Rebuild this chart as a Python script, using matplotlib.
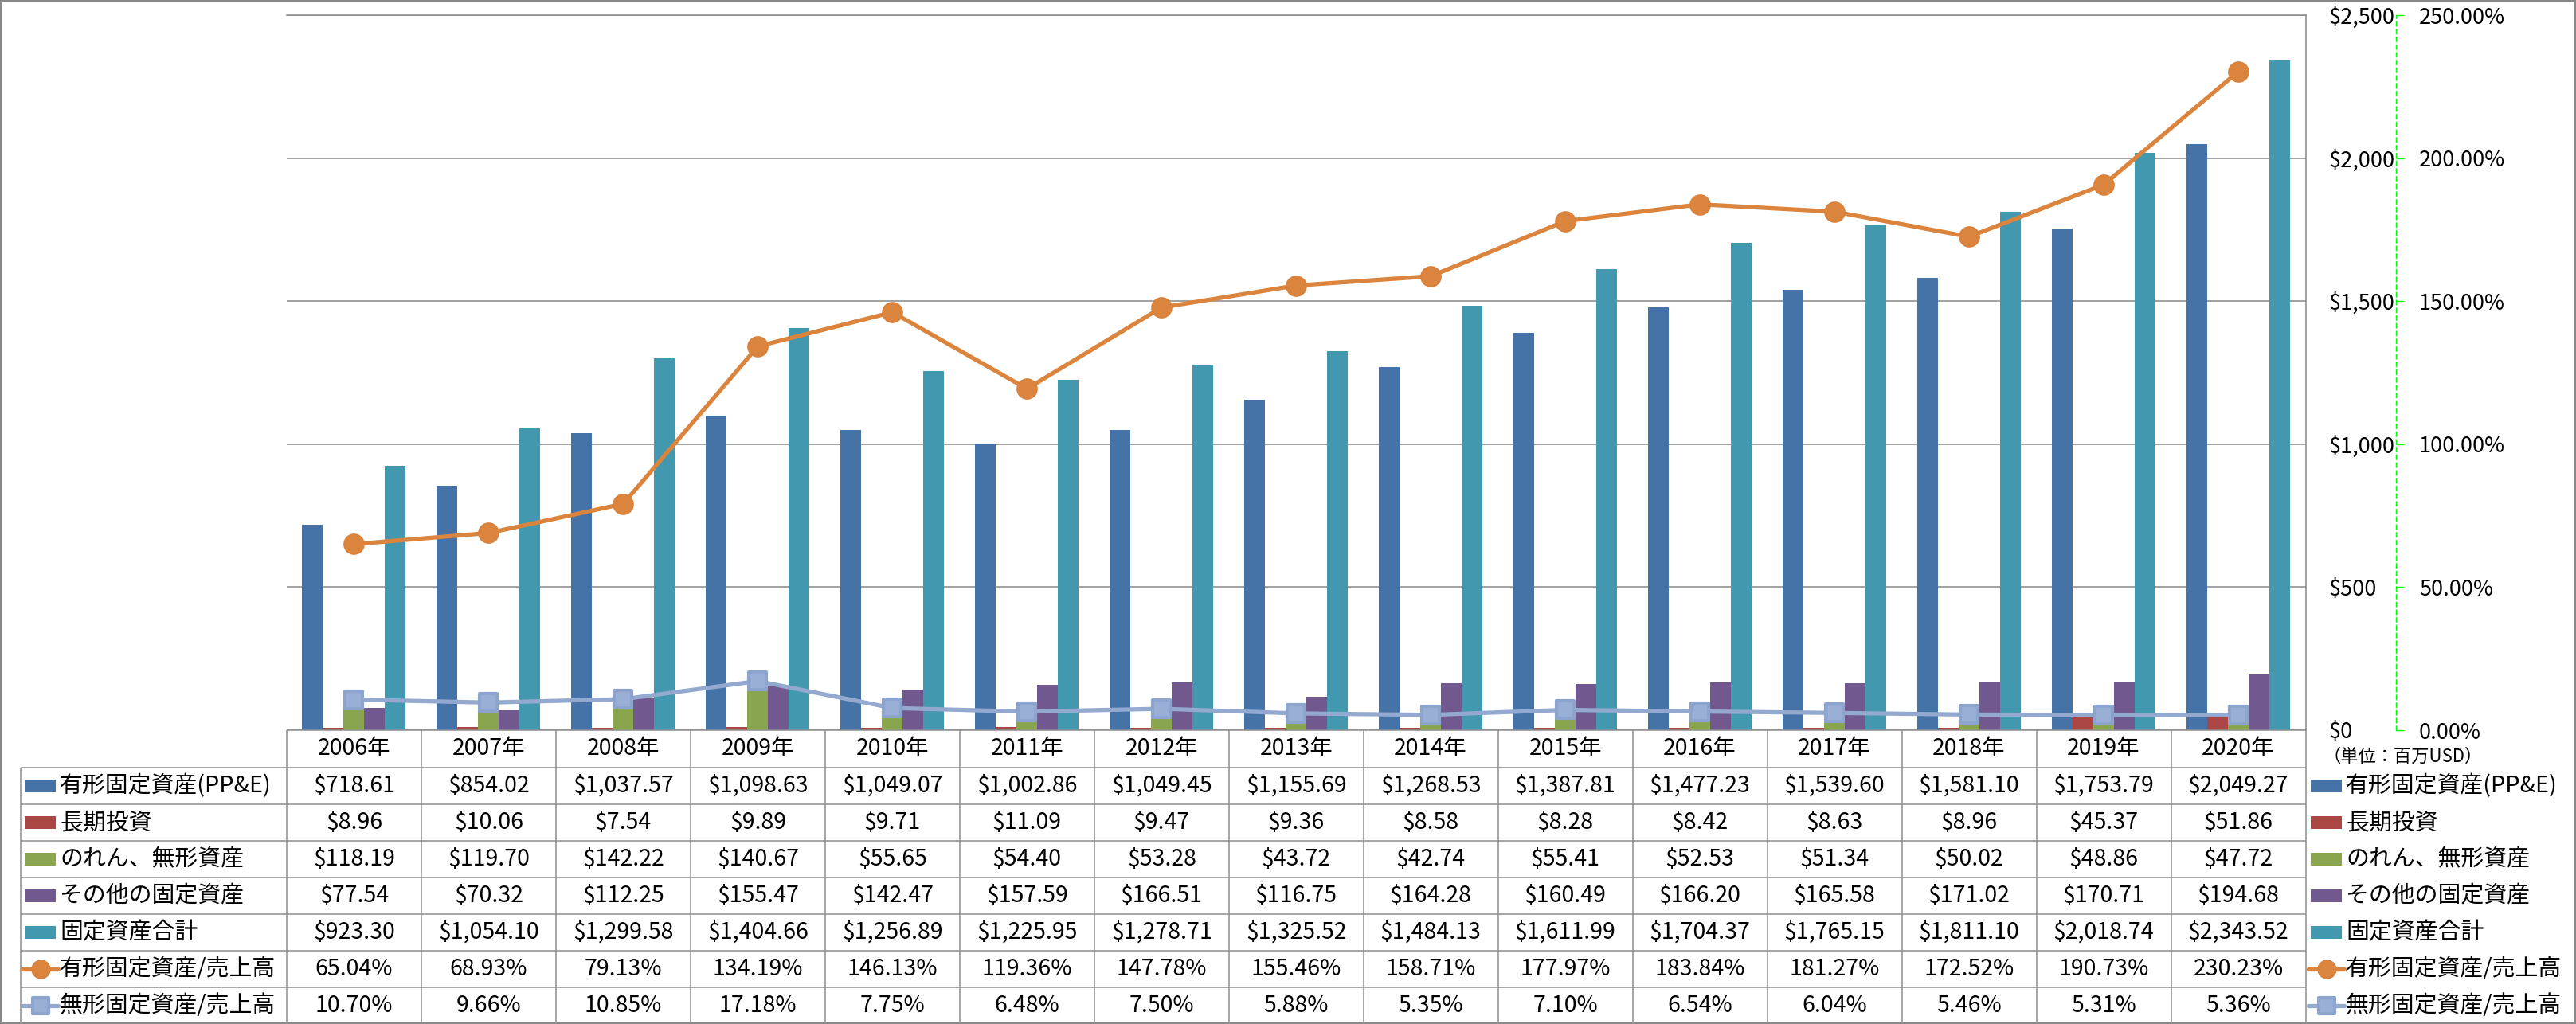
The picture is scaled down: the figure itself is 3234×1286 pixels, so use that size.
import numpy as np
import matplotlib
matplotlib.use("Agg")
import matplotlib.pyplot as plt
from matplotlib.markers import MarkerStyle
from matplotlib.patches import Rectangle
from matplotlib.ticker import FuncFormatter

plt.rcParams['font.family'] = ['Noto Sans CJK JP', 'DejaVu Sans']

# data (単位: 百万USD)
years = ['2006年', '2007年', '2008年', '2009年', '2010年', '2011年', '2012年', '2013年',
         '2014年', '2015年', '2016年', '2017年', '2018年', '2019年', '2020年']
ppe = [718.61, 854.02, 1037.57, 1098.63, 1049.07, 1002.86, 1049.45, 1155.69,
       1268.53, 1387.81, 1477.23, 1539.60, 1581.10, 1753.79, 2049.27]
lt_invest = [8.96, 10.06, 7.54, 9.89, 9.71, 11.09, 9.47, 9.36,
             8.58, 8.28, 8.42, 8.63, 8.96, 45.37, 51.86]
goodwill = [118.19, 119.70, 142.22, 140.67, 55.65, 54.40, 53.28, 43.72,
            42.74, 55.41, 52.53, 51.34, 50.02, 48.86, 47.72]
other_fixed = [77.54, 70.32, 112.25, 155.47, 142.47, 157.59, 166.51, 116.75,
               164.28, 160.49, 166.20, 165.58, 171.02, 170.71, 194.68]
total_fixed = [923.30, 1054.10, 1299.58, 1404.66, 1256.89, 1225.95, 1278.71, 1325.52,
               1484.13, 1611.99, 1704.37, 1765.15, 1811.10, 2018.74, 2343.52]
ppe_ratio = [65.04, 68.93, 79.13, 134.19, 146.13, 119.36, 147.78, 155.46,
             158.71, 177.97, 183.84, 181.27, 172.52, 190.73, 230.23]
intang_ratio = [10.70, 9.66, 10.85, 17.18, 7.75, 6.48, 7.50, 5.88,
                5.35, 7.10, 6.54, 6.04, 5.46, 5.31, 5.36]

bar_names = ['有形固定資産(PP&E)', '長期投資', 'のれん、無形資産', 'その他の固定資産', '固定資産合計']
line_names = ['有形固定資産/売上高', '無形固定資産/売上高']
bar_series = [ppe, lt_invest, goodwill, other_fixed, total_fixed]
bar_colors = ['#4572A7', '#AA4643', '#89A54E', '#71588F', '#4198AF']
line_series = [ppe_ratio, intang_ratio]
line_colors = ['#DB843D', '#93A9CF']

# layout in pixels
W, H = 3234, 1286
plot_l, plot_r, plot_t, plot_b = 360, 2894.5, 19, 917
tab_l = 26
head_h = 47
row_h = 46
px2pt = 72 / 100
fs_axis = 19.5
fs_num = 20.5
fs_lab = 20.8

fig = plt.figure(figsize=(W / 100, H / 100), dpi=100)
ax = fig.add_axes([plot_l / W, 1 - plot_b / H, (plot_r - plot_l) / W, (plot_b - plot_t) / H])
n = len(years)
x = np.arange(n)
bw = 26 / ((plot_r - plot_l) / n)
for i, (vals, c) in enumerate(zip(bar_series, bar_colors)):
    ax.bar(x + (i - 2) * bw, vals, width=bw, color=c, zorder=2)
ax.set_xlim(-0.5, n - 0.5)
ax.set_ylim(0, 2500)
ax.set_yticks(np.arange(0, 2501, 500))
ax.yaxis.set_major_formatter(FuncFormatter(lambda v, p: f"${v:,.0f}"))
ax.set_xticks([])
ax.yaxis.grid(True, color='#878787', lw=1.1)
ax.set_axisbelow(True)
for s in ['left', 'bottom']:
    ax.spines[s].set_visible(False)
for s in ['top', 'right']:
    ax.spines[s].set_color('#878787')
    ax.spines[s].set_linewidth(1.1)

ax2 = ax.twinx()
# twinx moves the primary ticks back to the left
ax.yaxis.tick_right()
ax.tick_params(axis='y', which='both', left=False, labelleft=False, right=True, labelright=True,
               length=0, pad=28.5 * px2pt, labelsize=fs_axis)

ax2.set_ylim(0, 250)
ax2.set_yticks(np.arange(0, 251, 50))
ax2.yaxis.set_major_formatter(FuncFormatter(lambda v, p: f"{v:.2f}%"))
for s in ['left', 'top', 'bottom']:
    ax2.spines[s].set_visible(False)
ax2.spines['right'].set_position(('outward', (3008 - plot_r) * px2pt))
ax2.spines['right'].set_color('#00FF00')
ax2.spines['right'].set_linestyle((0, (4, 3)))
ax2.spines['right'].set_linewidth(1)
ax2.tick_params(axis='y', direction='out', length=10 * px2pt, width=1, color='#00FF00',
                pad=19 * px2pt, labelsize=fs_axis)

sq = MarkerStyle('s', joinstyle='round')
ax2.plot(x, ppe_ratio, color=line_colors[0], lw=3.8, marker='o', ms=18,
         mfc='#DB843D', mec='#D9803A', mew=1.2, zorder=3)
ax2.plot(x, intang_ratio, color=line_colors[1], lw=3.8, marker=sq, ms=15.5,
         mfc='#99AFD5', mec='#8DA5CE', mew=3, zorder=3)

# data table drawn in pixel coordinates
tab = fig.add_axes([0, 0, 1, 1], zorder=5)
tab.set_xlim(0, W)
tab.set_ylim(H, 0)
tab.axis('off')
tab.patch.set_alpha(0)
col_w = (plot_r - plot_l) / n
grid_c = '#8E8E8E'
rows_top = plot_b + head_h
n_rows = len(bar_series) + len(line_series)
bottom = rows_top + n_rows * row_h
tab.hlines(plot_b, plot_l, plot_r, color=grid_c, lw=1.1)
for k in range(n_rows + 1):
    tab.hlines(rows_top + k * row_h, tab_l, plot_r, color=grid_c, lw=1.1)
for k in range(n + 1):
    tab.vlines(plot_l + k * col_w, plot_b, bottom, color=grid_c, lw=1.1)
tab.vlines(tab_l, rows_top, bottom, color=grid_c, lw=1.1)

for j, yl in enumerate(years):
    tab.text(plot_l + (j + 0.5) * col_w, plot_b + head_h / 2, yl, ha='center', va='center', fontsize=fs_num)

row_text = [[f"${v:,.2f}" for v in s] for s in bar_series] + \
           [[f"{v:.2f}%" for v in s] for s in line_series]
row_names = bar_names + line_names
for r in range(n_rows):
    yc = rows_top + (r + 0.5) * row_h
    for j in range(n):
        tab.text(plot_l + (j + 0.5) * col_w, yc, row_text[r][j], ha='center', va='center', fontsize=fs_num)
    for kx, tx in [(31, 75), (2901, 2945)]:
        if r < len(bar_series):
            tab.add_patch(Rectangle((kx, yc - 8), 39, 16, color=bar_colors[r], lw=0))
        else:
            li = r - len(bar_series)
            tab.plot([kx - 3, kx + 42], [yc, yc], color=line_colors[li], lw=3.8, solid_capstyle='round')
            if li == 0:
                tab.plot([kx + 19.5], [yc], marker='o', ms=16.5, color=line_colors[0], mec='#D9803A')
            else:
                tab.plot([kx + 19.5], [yc], marker=sq, ms=14, mfc='#99AFD5', mec='#8DA5CE', mew=3)
        tab.text(tx, yc, row_names[r], ha='left', va='center', fontsize=fs_lab)

tab.text(2916, 950, '（単位：百万USD）', ha='left', va='center', fontsize=16)

fig.patches.append(Rectangle((0, 0), 1, 1, transform=fig.transFigure, fill=False,
                             ec='#878787', lw=4))

fig.savefig('out.png', dpi=100)
